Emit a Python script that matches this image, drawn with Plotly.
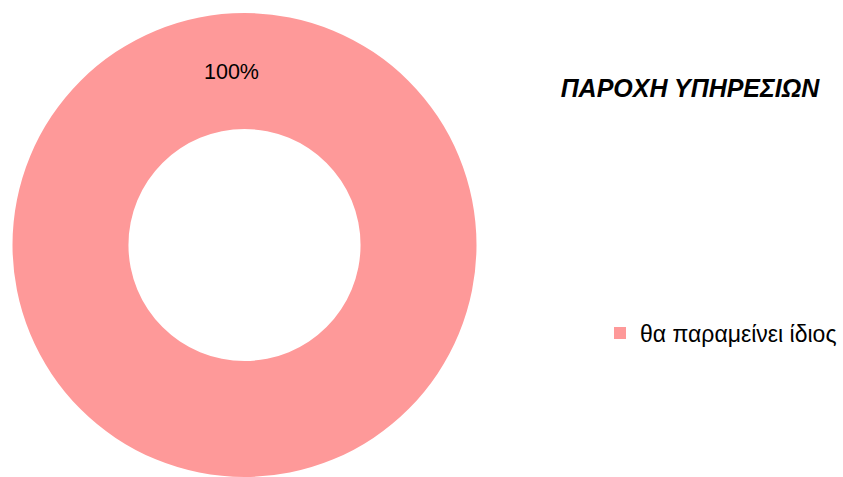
import plotly.graph_objects as go

categories = ["θα παραμείνει ίδιος"]
values = [100]
title_text = "ΠΑΡΟΧΗ ΥΠΗΡΕΣΙΩΝ"
colors = ["#FE9999"]

total = sum(values)
pct_labels = [f"{round(v / total * 100)}%" for v in values]

W, H = 843, 477

fig = go.Figure()
fig.add_trace(go.Pie(
    labels=categories,
    values=values,
    hole=0.5,
    sort=False,
    direction="clockwise",
    textinfo="none",
    hoverinfo="label+percent",
    marker=dict(colors=colors, line=dict(width=0)),
    domain=dict(x=[11 / W, 478 / W], y=[0.0, 1 - 13 / H]),
    showlegend=True,
))

fig.add_annotation(
    x=231 / W, y=1 - 72 / H, xref="paper", yref="paper",
    xanchor="center", yanchor="middle",
    text=pct_labels[0], showarrow=False,
    font=dict(family="Liberation Sans, Arial", size=21.5, color="#000000"),
)

fig.update_layout(
    width=W, height=H,
    margin=dict(l=0, r=0, t=0, b=0),
    paper_bgcolor="white", plot_bgcolor="white",
    font=dict(family="Liberation Sans, Arial", color="#000000"),
    title=dict(
        text=title_text,
        x=690 / W, y=1 - 88 / H, xanchor="center", yanchor="middle",
        xref="paper", yref="paper",
        font=dict(family="Liberation Sans, Arial", size=25, color="#000000",
                  weight="bold", style="italic"),
    ),
    legend=dict(
        x=600 / W, y=1 - 333 / H, xanchor="left", yanchor="middle",
        font=dict(family="Liberation Sans, Arial", size=23, color="#000000"),
        bgcolor="rgba(0,0,0,0)",
    ),
)

fig.write_html(
    "out.html",
    config={"displayModeBar": False},
    post_script="document.body.style.margin='0';document.body.style.overflow='hidden';",
)
